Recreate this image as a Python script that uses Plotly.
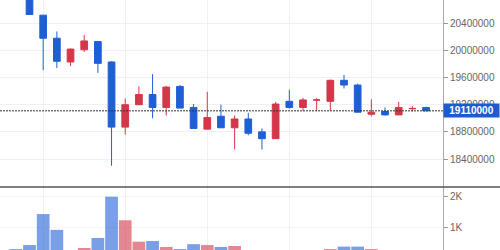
import plotly.graph_objects as go

idx = list(range(31))
opens = [20850000, 20800000, 20520000, 20180000, 19830000, 20010000, 20130000, 19830000,
         18870000, 19200000, 19350000, 19160000, 19470000, 19160000, 18840000, 19030000,
         18860000, 18990000, 18800000, 18700000, 19250000, 19160000, 19270000, 19250000,
         19560000, 19490000, 19060000, 19100000, 19050000, 19140000, 19160000]
highs = [20900000, 20850000, 20520000, 20280000, 20030000, 20230000, 20140000, 19840000,
         19290000, 19470000, 19650000, 19480000, 19490000, 19210000, 19390000, 19200000,
         19040000, 19080000, 18850000, 19240000, 19420000, 19300000, 19300000, 19570000,
         19640000, 19510000, 19280000, 19160000, 19240000, 19180000, 19170000]
lows = [20780000, 20530000, 19710000, 19740000, 19770000, 19980000, 19670000, 18300000,
        18760000, 19200000, 19000000, 19040000, 19150000, 18850000, 18840000, 18860000,
        18540000, 18750000, 18540000, 18700000, 19140000, 19110000, 19110000, 19110000,
        19440000, 19090000, 19030000, 19040000, 19050000, 19100000, 19110000]
closes = [20800000, 20530000, 20180000, 19840000, 20020000, 20140000, 19810000, 18870000,
          19200000, 19350000, 19160000, 19460000, 19150000, 18850000, 19010000, 18860000,
          18990000, 18780000, 18700000, 19210000, 19160000, 19270000, 19270000, 19560000,
          19490000, 19090000, 19090000, 19050000, 19160000, 19145000, 19110000]
volumes = [310, 440, 1440, 930, 200, 345, 670, 2000, 1240, 550, 570, 380, 310, 470, 440, 380,
           410, 220, 180, 250, 150, 120, 90, 310, 390, 390, 310, 140, 200, 100, 80]
price_ticks = [18400000, 18800000, 19200000, 19600000, 20000000, 20400000]
vol_ticks = [1000, 2000]
vol_tick_text = ["1K", "2K"]
last_price = 19110000

UP = "#d3374a"
DOWN = "#1f5fd6"
UP_V = "rgba(211,55,74,0.6)"
DOWN_V = "rgba(31,95,214,0.6)"

vol_colors = [UP_V if c > o else DOWN_V for o, c in zip(opens, closes)]

fig = go.Figure()
fig.add_trace(go.Candlestick(
    x=idx, open=opens, high=highs, low=lows, close=closes,
    increasing=dict(line=dict(color=UP, width=1), fillcolor=UP),
    decreasing=dict(line=dict(color=DOWN, width=1), fillcolor=DOWN),
    whiskerwidth=0, xaxis="x", yaxis="y", hoverinfo="skip", showlegend=False,
))
fig.add_trace(go.Bar(
    x=idx, y=volumes, marker=dict(color=vol_colors, line=dict(width=0)),
    xaxis="x", yaxis="y2", hoverinfo="skip", showlegend=False,
))

split = 63 / 250
tickfont = dict(family="Liberation Sans, Arial", size=10, color="#666")

fig.update_layout(
    width=500, height=250,
    margin=dict(l=0, r=57, t=0, b=0),
    paper_bgcolor="white", plot_bgcolor="white",
    bargap=0.07,
    hovermode=False,
    xaxis=dict(
        range=[-1.158, 31.24], rangeslider=dict(visible=False),
        showticklabels=False, tick0=2, dtick=6, showgrid=True,
        gridcolor="#f0f0f0", gridwidth=1, zeroline=False, ticks="",
    ),
    yaxis=dict(
        domain=[split, 1], side="right", range=[17987389, 20743395],
        tickvals=price_ticks, tickformat="d", tickfont=tickfont,
        ticks="outside", ticklen=4, tickcolor="#999",
        showline=True, linecolor="#aaa", linewidth=1,
        showgrid=True, gridcolor="#f0f0f0", zeroline=False,
    ),
    yaxis2=dict(
        domain=[0, split], side="right", anchor="x", range=[281, 2313],
        tickvals=vol_ticks, ticktext=vol_tick_text, tickfont=tickfont,
        ticks="outside", ticklen=4, tickcolor="#999",
        showline=True, linecolor="#aaa", linewidth=1,
        showgrid=True, gridcolor="#f5f5f5", zeroline=False,
    ),
    shapes=[
        dict(type="line", xref="paper", yref="y", x0=0, x1=1, y0=last_price, y1=last_price,
             line=dict(color="#333", width=1, dash="2px,1px"), layer="above"),
        dict(type="line", xref="paper", yref="paper", x0=0, x1=500 / 443, y0=split, y1=split,
             line=dict(color="#555", width=1.5), layer="above"),
    ],
    annotations=[
        dict(xref="paper", yref="y", x=1, y=last_price, xanchor="left", yanchor="middle",
             text="<b>%d</b>" % last_price, showarrow=False, bgcolor="#1e5bd0",
             font=dict(family="Liberation Sans, Arial", size=10, color="white"),
             width=53, height=11, borderpad=1, borderwidth=1, align="center"),
    ],
)

fig.write_html("out.html")
